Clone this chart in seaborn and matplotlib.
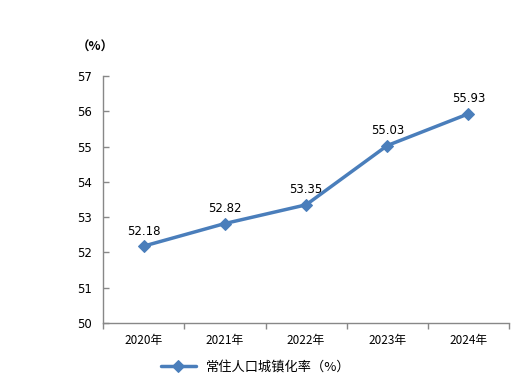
import matplotlib
matplotlib.use("Agg")
import matplotlib.pyplot as plt
import seaborn as sns
import pandas as pd
import numpy as np
from matplotlib.ticker import FixedLocator, NullFormatter, FixedFormatter

years = ["2020年", "2021年", "2022年", "2023年", "2024年"]
rates = [52.18, 52.82, 53.35, 55.03, 55.93]
series_name = "常住人口城镇化率（%）"
yticks = [50, 51, 52, 53, 54, 55, 56, 57]

sns.set_style("white")
plt.rcParams['font.family'] = ['Noto Sans CJK SC', 'DejaVu Sans']
plt.rcParams['text.color'] = 'black'
plt.rcParams['xtick.color'] = 'black'
plt.rcParams['ytick.color'] = 'black'

df = pd.DataFrame({"idx": np.arange(len(years)), "rate": rates, "series": series_name})

fig = plt.figure(figsize=(5.21, 3.88), dpi=100)
ax = fig.add_axes([0.198, 0.1675, 0.779, 0.6365])
color = "#4A7EBB"
sns.lineplot(data=df, x="idx", y="rate", hue="series", palette=[color], marker="D",
             markersize=6, linewidth=2.5, markeredgecolor=color, ax=ax)

ax.set_xlim(-0.5, len(years) - 0.5)
ax.set_ylim(50, 57)
ax.set_yticks(yticks)
ax.set_yticklabels([str(v) for v in yticks], fontsize=8.5, family=['DejaVu Sans'])
ax.xaxis.set_major_locator(FixedLocator(np.arange(-0.5, len(years), 1.0)))
ax.xaxis.set_major_formatter(NullFormatter())
ax.xaxis.set_minor_locator(FixedLocator(np.arange(len(years))))
ax.xaxis.set_minor_formatter(FixedFormatter(years))
ax.tick_params(axis='x', which='minor', bottom=True, length=0, labelsize=8.5, pad=8,
               labelcolor='black')
ax.tick_params(axis='x', which='major', bottom=True, length=4, direction='out',
               color='#888888', width=1)
ax.tick_params(axis='y', left=True, length=4, direction='in', color='#888888', width=1,
               pad=8, labelcolor='black')
ax.set_xlabel("")
ax.set_ylabel("")

for s in ['top', 'right']:
    ax.spines[s].set_visible(False)
for s in ['left', 'bottom']:
    ax.spines[s].set_color('#888888')
    ax.spines[s].set_linewidth(1)

for i, v in enumerate(rates):
    ax.annotate(f"{v:.2f}", (i, v), xytext=(0, 6), textcoords='offset points',
                ha='center', va='bottom', fontsize=8.5, family=['DejaVu Sans'],
                color='black')

fig.text(95 / 521, 1 - 47 / 388, "（%）", ha='center', va='center', fontsize=9,
         fontweight='bold')

leg = ax.legend(loc='center', bbox_to_anchor=(256 / 521, 1 - 367 / 388),
                bbox_transform=fig.transFigure, frameon=False,
                fontsize=9.5, handlelength=2.6, title=None)
for t in leg.get_texts():
    t.set_color('black')

fig.savefig("out.png", dpi=100)
